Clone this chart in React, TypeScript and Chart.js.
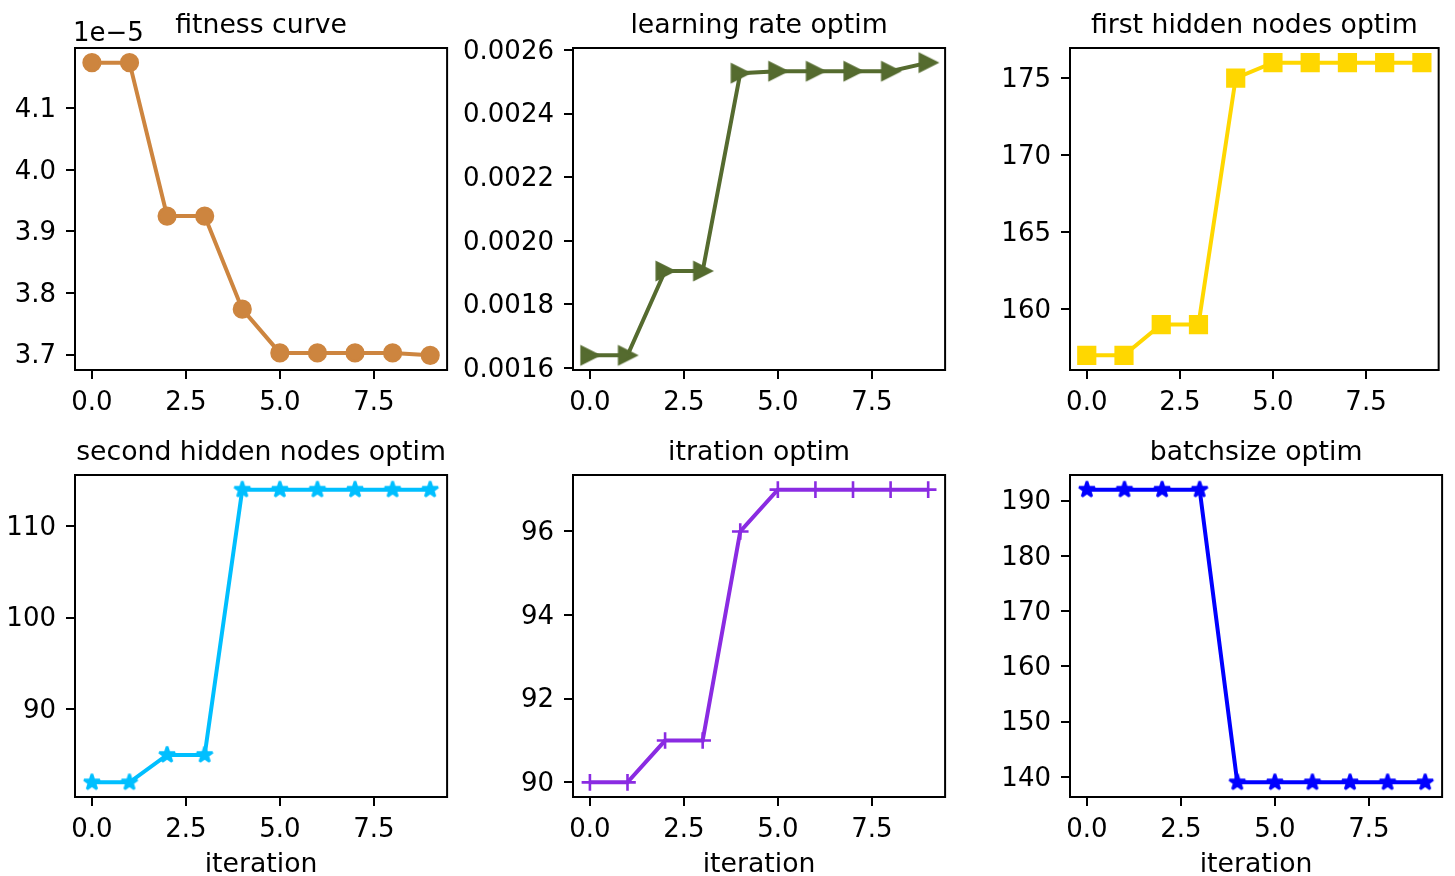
import React, { useEffect, useRef } from "react";
import { Chart, registerables } from "chart.js";

Chart.register(...registerables);

// ---------- data ----------
const ITERATIONS = [0, 1, 2, 3, 4, 5, 6, 7, 8, 9];
const X_TICKS = [0, 2.5, 5, 7.5];

const FITNESS = [4.174e-5, 4.174e-5, 3.925e-5, 3.925e-5, 3.774e-5, 3.703e-5, 3.703e-5, 3.703e-5, 3.703e-5, 3.699e-5];
const FITNESS_TICKS = [3.7e-5, 3.8e-5, 3.9e-5, 4.0e-5, 4.1e-5];
const FITNESS_OFFSET_TEXT = "1e\u22125";

const LEARNING_RATE = [0.00164, 0.00164, 0.001905, 0.001905, 0.002527, 0.002533, 0.002533, 0.002533, 0.002533, 0.00256];
const LR_TICKS = [0.0016, 0.0018, 0.002, 0.0022, 0.0024, 0.0026];

const FIRST_HIDDEN = [157, 157, 159, 159, 175, 176, 176, 176, 176, 176];
const FIRST_HIDDEN_TICKS = [160, 165, 170, 175];

const SECOND_HIDDEN = [82, 82, 85, 85, 114, 114, 114, 114, 114, 114];
const SECOND_HIDDEN_TICKS = [90, 100, 110];

const ITERATION_OPT = [90, 90, 91, 91, 96, 97, 97, 97, 97, 97];
const ITERATION_TICKS = [90, 92, 94, 96];

const BATCHSIZE = [192, 192, 192, 192, 139, 139, 139, 139, 139, 139];
const BATCHSIZE_TICKS = [140, 150, 160, 170, 180, 190];

const TITLES = [
  "fitness curve",
  "learning rate optim",
  "first hidden nodes optim",
  "second hidden nodes optim",
  "itration optim",
  "batchsize optim",
];
const X_LABEL = "iteration";

// ---------- styling / layout ----------
const FONT = "DejaVu Sans";
const FS = 26;
const TITLE_FS = 26.7;
const PLOT_W = 375;
const PLOT_H = 322;
const COL_LEFT = [75, 573, 1070];
const COL_YAXIS_W = [75, 125, 75];
const ROW_TOP = [48, 475];
const ROW_XAXIS_H = [50, 79];
const TITLE_H = 48;
const RIGHT_PAD = 8;
const MS = 16.6; // marker size in px
const MEW = 2.6; // marker edge width

function makeStar(color: string) {
  const s = 32;
  const c = document.createElement("canvas");
  c.width = s;
  c.height = s;
  const ctx = c.getContext("2d")!;
  const R = MS / 2;
  const r = R * 0.381966;
  ctx.beginPath();
  for (let i = 0; i < 10; i++) {
    const ang = -Math.PI / 2 + (i * Math.PI) / 5;
    const rad = i % 2 === 0 ? R : r;
    const px = s / 2 + rad * Math.cos(ang);
    const py = s / 2 + rad * Math.sin(ang);
    if (i === 0) ctx.moveTo(px, py);
    else ctx.lineTo(px, py);
  }
  ctx.closePath();
  ctx.fillStyle = color;
  ctx.fill();
  ctx.lineWidth = MEW;
  ctx.strokeStyle = color;
  ctx.lineJoin = "bevel";
  ctx.stroke();
  return c;
}

function makeTriangleRight(color: string) {
  const s = 34;
  const c = document.createElement("canvas");
  c.width = s;
  c.height = s;
  const ctx = c.getContext("2d")!;
  const h = MS / 2;
  const cx = s / 2;
  const cy = s / 2;
  ctx.beginPath();
  ctx.moveTo(cx + h, cy);
  ctx.lineTo(cx - h, cy - h);
  ctx.lineTo(cx - h, cy + h);
  ctx.closePath();
  ctx.fillStyle = color;
  ctx.fill();
  ctx.lineWidth = MEW;
  ctx.strokeStyle = color;
  ctx.lineJoin = "miter";
  ctx.stroke();
  return c;
}

type Spec = {
  title: string;
  values: number[];
  ticks: number[];
  color: string;
  marker: "circle" | "triangle" | "rect" | "star" | "cross";
  fmt: (v: number) => string;
  offsetText?: string;
};

const SPECS: Spec[] = [
  { title: TITLES[0], values: FITNESS, ticks: FITNESS_TICKS, color: "#CD853F", marker: "circle", fmt: (v) => (v * 1e5).toFixed(1), offsetText: FITNESS_OFFSET_TEXT },
  { title: TITLES[1], values: LEARNING_RATE, ticks: LR_TICKS, color: "#556B2F", marker: "triangle", fmt: (v) => v.toFixed(4) },
  { title: TITLES[2], values: FIRST_HIDDEN, ticks: FIRST_HIDDEN_TICKS, color: "#FFD700", marker: "rect", fmt: (v) => String(Math.round(v)) },
  { title: TITLES[3], values: SECOND_HIDDEN, ticks: SECOND_HIDDEN_TICKS, color: "#00BFFF", marker: "star", fmt: (v) => String(Math.round(v)) },
  { title: TITLES[4], values: ITERATION_OPT, ticks: ITERATION_TICKS, color: "#8A2BE2", marker: "cross", fmt: (v) => String(Math.round(v)) },
  { title: TITLES[5], values: BATCHSIZE, ticks: BATCHSIZE_TICKS, color: "#0000FF", marker: "star", fmt: (v) => String(Math.round(v)) },
];

function padRange(vals: number[]) {
  const lo = Math.min(...vals);
  const hi = Math.max(...vals);
  const m = (hi - lo) * 0.05;
  return [lo - m, hi + m];
}

const boxPlugin = {
  id: "axesBox",
  afterDraw(chart: any, _args: any, opts: any) {
    const { ctx, chartArea } = chart;
    ctx.save();
    ctx.strokeStyle = "#000";
    ctx.lineWidth = 2;
    ctx.strokeRect(chartArea.left, chartArea.top, chartArea.right - chartArea.left, chartArea.bottom - chartArea.top);
    if (opts && opts.offsetText) {
      ctx.font = `${FS}px "${FONT}"`;
      ctx.fillStyle = "#000";
      ctx.textAlign = "left";
      ctx.textBaseline = "alphabetic";
      ctx.fillText(opts.offsetText, chartArea.left - 2, chartArea.top - 7);
    }
    ctx.restore();
  },
};

function SubChart({ spec, row, col }: { spec: Spec; row: number; col: number }) {
  const ref = useRef<HTMLCanvasElement>(null);
  const yW = COL_YAXIS_W[col];
  const xH = ROW_XAXIS_H[row];
  const cw = yW + PLOT_W + RIGHT_PAD;
  const ch = TITLE_H + PLOT_H + xH;
  const left = COL_LEFT[col] - yW;
  const top = ROW_TOP[row] - TITLE_H;

  useEffect(() => {
    if (!ref.current) return;
    let pointStyle: any = spec.marker;
    let pointRadius = MS / 2;
    if (spec.marker === "star") pointStyle = makeStar(spec.color);
    if (spec.marker === "triangle") pointStyle = makeTriangleRight(spec.color);
    if (spec.marker === "rect") pointRadius = MS / Math.SQRT2;
    const [xMin, xMax] = padRange(ITERATIONS);
    const [yMin, yMax] = padRange(spec.values);
    const tickFont = { family: FONT, size: FS, weight: "normal" as const, lineHeight: 1.2 };
    const grid = {
      display: true,
      drawOnChartArea: false,
      drawTicks: true,
      tickLength: 9,
      tickWidth: 2,
      tickColor: "#000",
      lineWidth: 2,
      color: "#000",
    };
    const chart = new Chart(ref.current, {
      type: "line",
      data: {
        datasets: [
          {
            data: ITERATIONS.map((x, i) => ({ x, y: spec.values[i] })),
            borderColor: spec.color,
            backgroundColor: spec.color,
            borderWidth: 4,
            pointStyle,
            pointRadius,
            pointBorderWidth: MEW,
            pointBackgroundColor: spec.color,
            pointBorderColor: spec.color,
            tension: 0,
            clip: false as any,
          },
        ],
      },
      options: {
        animation: false,
        responsive: false,
        devicePixelRatio: 1,
        events: [],
        layout: { padding: { left: 0, right: RIGHT_PAD, top: 0, bottom: 0 } },
        plugins: {
          legend: { display: false },
          tooltip: { enabled: false },
          title: {
            display: true,
            text: spec.title,
            fullSize: false,
            position: "top",
            color: "#000",
            font: { family: FONT, size: TITLE_FS, weight: "normal", lineHeight: 1 },
            padding: { top: 12.5, bottom: 8.8 },
          },
          axesBox: { offsetText: spec.offsetText },
        } as any,
        scales: {
          x: {
            type: "linear",
            min: xMin,
            max: xMax,
            afterBuildTicks: (s: any) => {
              s.ticks = X_TICKS.map((v) => ({ value: v }));
            },
            afterFit: (s: any) => {
              s.height = xH;
            },
            ticks: {
              autoSkip: false,
              maxRotation: 0,
              minRotation: 0,
              padding: 9,
              color: "#000",
              font: tickFont,
              callback: (v: any) => Number(v).toFixed(1),
            },
            grid,
            border: { display: false },
            title: {
              display: row === 1,
              text: X_LABEL,
              color: "#000",
              font: { family: FONT, size: TITLE_FS, weight: "normal", lineHeight: 1 },
              padding: { top: 0, bottom: -2 },
            },
          },
          y: {
            type: "linear",
            min: yMin,
            max: yMax,
            afterBuildTicks: (s: any) => {
              s.ticks = spec.ticks.map((v) => ({ value: v }));
            },
            afterFit: (s: any) => {
              s.width = yW;
            },
            ticks: {
              autoSkip: false,
              padding: 10,
              labelOffset: 2,
              color: "#000",
              font: tickFont,
              callback: (v: any) => spec.fmt(Number(v)),
            },
            grid,
            border: { display: false },
          },
        },
      } as any,
      plugins: [boxPlugin],
    });
    return () => chart.destroy();
  }, []);

  return (
    <canvas
      ref={ref}
      width={cw}
      height={ch}
      style={{ position: "absolute", left, top, width: cw, height: ch }}
    />
  );
}

export default function App() {
  return (
    <div style={{ position: "absolute", left: 0, top: 0, width: 1455, height: 876, background: "#fff", overflow: "hidden" }}>
      {SPECS.map((spec, i) => (
        <SubChart key={i} spec={spec} row={Math.floor(i / 3)} col={i % 3} />
      ))}
    </div>
  );
}
